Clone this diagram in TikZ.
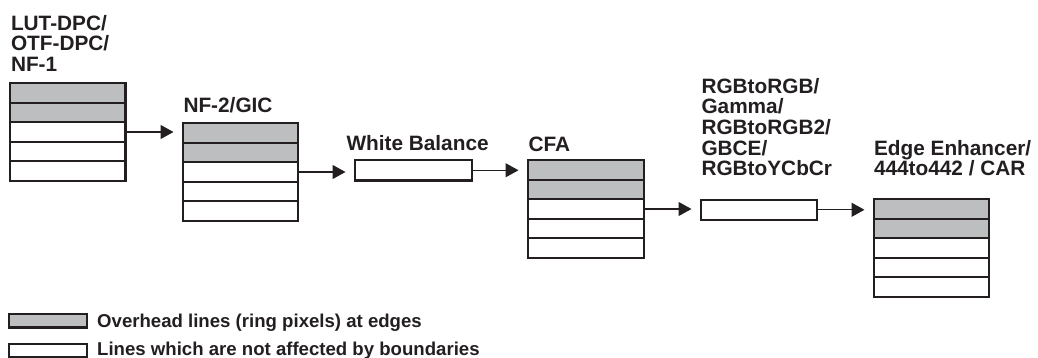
\documentclass[tikz,border=0pt]{standalone}
\usepackage{fontspec}
\setmainfont{Liberation Sans}
\usetikzlibrary{arrows.meta}
\definecolor{ringgray}{RGB}{189,190,192}
\definecolor{inkblack}{RGB}{35,31,32}
\begin{document}
\begin{tikzpicture}[x=1pt,y=-1pt,
  row/.style={draw=inkblack, line width=2.1pt, minimum width=#1, minimum height=19.6pt,
              inner sep=0pt, outer sep=0pt, anchor=north west},
  ring/.style={fill=ringgray},
  free/.style={fill=white},
  lab/.style={font=\bfseries\fontsize{20.8}{20.7}\selectfont, text=inkblack, inner sep=0pt,
              outer sep=0pt, align=left, anchor=south west, text depth=0pt},
  leg/.style={font=\bfseries\fontsize{18.6}{20}\selectfont, text=inkblack, inner sep=0pt,
              anchor=base west},
  arr/.style={draw=inkblack, line width=1.2pt, -{Triangle[length=13pt,width=14pt]}, shorten >=9.5pt}
]
\useasboundingbox (0,0) rectangle (1038,358);

% block 1
\foreach \k in {1,2} \node[row=115.5, ring] (b1-\k) at (10,{83+(\k-1)*19.6}) {};
\foreach \k in {3,4,5} \node[row=115.5, free] (b1-\k) at (10,{83+(\k-1)*19.6}) {};
\node[lab] (l1) at (11,71.5) {LUT-DPC/\\OTF-DPC/\\NF-1};

% block 2
\foreach \k in {1,2} \node[row=115, ring] (b2-\k) at (183,{123+(\k-1)*19.6}) {};
\foreach \k in {3,4,5} \node[row=115, free] (b2-\k) at (183,{123+(\k-1)*19.6}) {};
\node[lab] (l2) at (183.5,113) {NF-2/GIC};

% white balance
\node[row=117, free, minimum height=20.5pt] (wb) at (355,160) {};
\node[lab] (l3) at (346.5,151) {White Balance};

% CFA
\foreach \k in {1,2} \node[row=116, ring] (b3-\k) at (528,{160+(\k-1)*19.6}) {};
\foreach \k in {3,4,5} \node[row=116, free] (b3-\k) at (528,{160+(\k-1)*19.6}) {};
\node[lab] (l4) at (528.5,152) {CFA};

% RGB chain
\node[row=116, free] (rgb) at (701,200) {};
\node[lab] (l5) at (701.5,176) {RGBtoRGB/\\Gamma/\\RGBtoRGB2/\\GBCE/\\RGBtoYCbCr};

% edge enhancer
\foreach \k in {1,2} \node[row=115, ring] (b4-\k) at (874,{199+(\k-1)*19.6}) {};
\foreach \k in {3,4,5} \node[row=115, free] (b4-\k) at (874,{199+(\k-1)*19.6}) {};
\node[lab] (l6) at (874,176) {Edge Enhancer/\\444to442 / CAR};

% connectors
\draw[arr] (b1-3.east) -- (b1-3.east -| b2-1.west);
\draw[arr] (b2-3.east) -- (b2-3.east -| wb.west);
\draw[arr] (wb.east) -- (wb.east -| b3-1.west);
\draw[arr] (b3-3.east) -- (b3-3.east -| rgb.west);
\draw[arr] (rgb.east) -- (rgb.east -| b4-1.west);

% legend
\node[row=78, ring, minimum height=13.5pt] (g1) at (9,314) {};
\node[row=78, free, minimum height=12.8pt] (g2) at (9,344) {};
\node[leg] (t1) at (97,327) {Overhead lines (ring pixels) at edges};
\node[leg] (t2) at (97,355) {Lines which are not affected by boundaries};
\end{tikzpicture}
\end{document}
